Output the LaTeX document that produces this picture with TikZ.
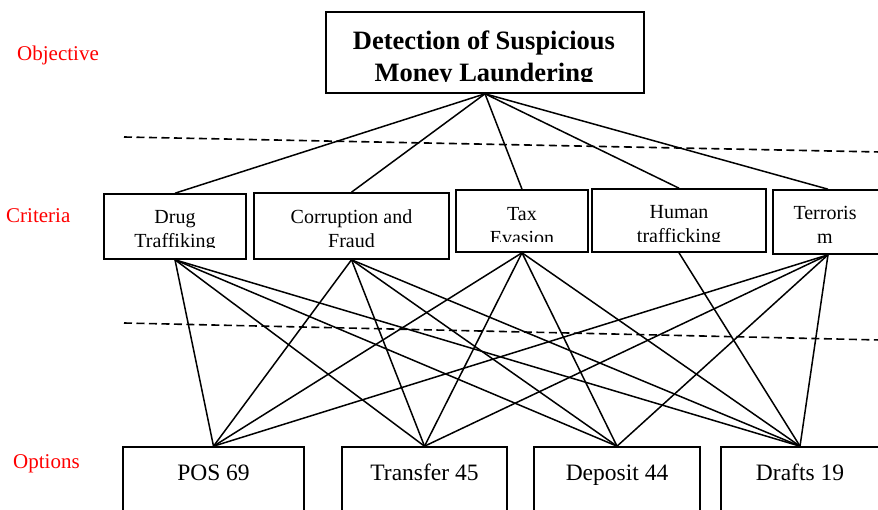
\documentclass[tikz,border=0pt]{standalone}
\usepackage{fontspec}
\setmainfont{Liberation Serif}
\begin{document}
\begin{tikzpicture}[x=1pt,y=-1pt,
  box/.style={draw,line width=1.6pt,inner sep=0pt,fill=white},
  conn/.style={line width=1.5pt},
  sepline/.style={line width=1.6pt,dash pattern=on 8pt off 4.5pt},
  lab/.style={text=red,font=\fontsize{21}{25}\selectfont,anchor=base west,inner sep=0pt},
  crit/.style={font=\fontsize{20}{24}\selectfont,align=center,anchor=north,inner sep=0pt},
  ttl/.style={font=\fontsize{26.5}{32}\selectfont\bfseries,align=center,anchor=north,inner sep=0pt},
  opt/.style={font=\fontsize{23.5}{28}\selectfont,anchor=base,inner sep=0pt}]
\clip (0,0) rectangle (878,510);
\fill[white] (0,0) rectangle (878,510);

% separators
\coordinate (d1a) at (124,137);
\coordinate (d1b) at (880,152);
\coordinate (d2a) at (124,323);
\coordinate (d2b) at (880,340);
\draw[sepline] (d1a) -- (d1b);
\draw[sepline] (d2a) -- (d2b);

% boxes
\node[box,minimum width=318pt,minimum height=81pt] (title) at (485,52.5) {};
\node[box,minimum width=142pt,minimum height=65pt] (drug) at (175,226.5) {};
\node[box,minimum width=195pt,minimum height=66pt] (corr) at (351.5,226) {};
\node[box,minimum width=132pt,minimum height=62pt] (tax) at (522,221) {};
\node[box,minimum width=174pt,minimum height=63pt] (human) at (679,220.5) {};
\node[box,minimum width=110pt,minimum height=64pt] (terr) at (828,222) {};
\node[box,minimum width=181pt,minimum height=90pt] (pos) at (213.5,492) {};
\node[box,minimum width=165pt,minimum height=90pt] (transfer) at (424.5,492) {};
\node[box,minimum width=166pt,minimum height=90pt] (deposit) at (617,492) {};
\node[box,minimum width=158pt,minimum height=90pt] (drafts) at (800,492) {};

% texts
\begin{scope}
\clip (326,12) rectangle (644,82);
\node[ttl] (titletext) at (484,26.6) {\strut Detection of Suspicious\\\strut Money Laundering};
\end{scope}
\begin{scope}
\clip (104,194) rectangle (246,247.5);
\node[crit] (drugtext) at (175,206.2) {\strut Drug\\\strut Traffiking};
\end{scope}
\begin{scope}
\clip (254,193) rectangle (449,249);
\node[crit] (corrtext) at (351.5,206.2) {\strut Corruption and\\\strut Fraud};
\end{scope}
\begin{scope}
\clip (456,190) rectangle (588,241.5);
\node[crit] (taxtext) at (522,203.2) {\strut Tax\\\strut Evasion};
\end{scope}
\begin{scope}
\clip (592,189) rectangle (766,241.5);
\node[crit] (humantext) at (679,201.2) {\strut Human\\\strut trafficking};
\end{scope}
\begin{scope}
\clip (773,190) rectangle (883,246);
\node[crit] (terrtext) at (825,202.2) {\strut Terroris\\\strut m};
\end{scope}

\node[opt] (postext) at (213.5,480) {POS 69};
\node[opt] (transfertext) at (424.5,480) {Transfer 45};
\node[opt] (deposittext) at (617,480) {Deposit 44};
\node[opt] (draftstext) at (800,480) {Drafts 19};

% labels
\node[lab] (lobj) at (17,61) {Objective};
\node[lab] (lcrit) at (6,223) {Criteria};
\node[lab] (lopt) at (13,468) {Options};

% connectors: objective to criteria
\foreach \c in {drug,corr,tax,human,terr}
  \draw[conn] (title.south) -- (\c.north);
% criteria to options
\foreach \c in {drug,corr,tax,terr}
  \foreach \o in {pos,transfer,deposit,drafts}
    \draw[conn] (\c.south) -- (\o.north);
\draw[conn] (human.south) -- (drafts.north);
\end{tikzpicture}
\end{document}
